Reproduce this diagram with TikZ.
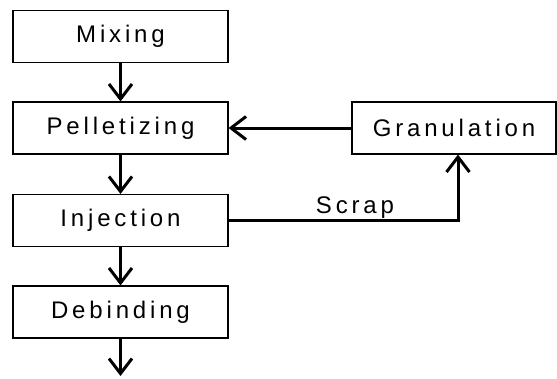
\documentclass[tikz,border=0pt]{standalone}
\usepackage{fontspec}
\setmainfont{Liberation Sans}[LetterSpace=16]
\usetikzlibrary{arrows.meta}
\begin{document}
\begin{tikzpicture}[x=1pt,y=-1pt,
  stepbox/.style={draw=black,line width=1.1pt,minimum height=52pt,inner sep=0pt,font=\fontsize{24}{28}\selectfont},
  flow/.style={line width=3pt,-{Straight Barb[length=15pt,width=23pt,line width=3pt]}},
  lbl/.style={font=\fontsize{24}{28}\selectfont,anchor=base}]
\useasboundingbox (0,0) rectangle (557,378);
\fill[white] (0,0) rectangle (557,378);
\node[stepbox,minimum width=215pt] (mix) at (120.5,36.5) {Mixing};
\node[stepbox,minimum width=215pt] (pel) at (120.5,128) {Pelletizing};
\node[stepbox,minimum width=215pt] (inj) at (120.5,220.5) {Injection};
\node[stepbox,minimum width=215pt] (deb) at (120.5,312) {Debinding};
\node[stepbox,minimum width=204pt] (gra) at (454,128) {Granulation};
\coordinate (end) at (120.5,376);
\coordinate (turn) at (458,220.5);
\draw[flow] (mix) -- (pel);
\draw[flow] (pel) -- (inj);
\draw[flow] (inj) -- (deb);
\draw[flow] (deb) -- (end);
\draw[flow] (gra) -- (pel);
\draw[flow] (inj.east) -- (turn) -- (turn |- gra.south);
\node[lbl] (scrap) at (355,213) {Scrap};
\end{tikzpicture}
\end{document}
